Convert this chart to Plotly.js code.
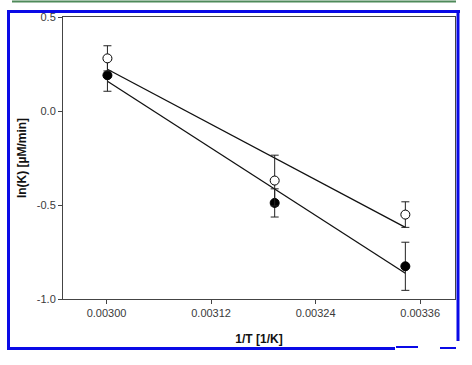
<!DOCTYPE html>
<html>
<head>
<meta charset="utf-8">
<script src="https://cdn.plot.ly/plotly-3.0.1.min.js"></script>
<style>html,body{margin:0;padding:0;background:#fff;}#chart{width:472px;height:365px;}</style>
</head>
<body>
<div id="chart"></div>
<script>
// Data
const invT = [0.003001, 0.003193, 0.003343];
const lnKOpen = [0.28, -0.37, -0.551];
const errOpen = [0.067, 0.135, 0.068];
const lnKFilled = [0.19, -0.489, -0.826];
const errFilled = [0.085, 0.075, 0.128];
// Regression line endpoints
const fitX = [0.003001, 0.003343];
const fitOpen = [0.222, -0.619];
const fitFilled = [0.158, -0.863];
const xTicks = [0.00300, 0.00312, 0.00324, 0.00336];
const xTickText = ['0.00300', '0.00312', '0.00324', '0.00336'];
const yTicks = [-1.0, -0.5, 0.0, 0.5];
const yTickText = ['-1.0', '-0.5', '0.0', '0.5'];

const L = 63, R = 455, T = 17, B = 299;
const W = 472, H = 365;
const px = x => (x - L) / (R - L);
const py = y => (B - y) / (B - T);
function seg(x0, y0, x1, y1, color, width) {
  return {type: 'line', xref: 'paper', yref: 'paper', x0: px(x0), y0: py(y0), x1: px(x1), y1: py(y1),
    line: {color: color, width: width}, layer: 'above'};
}
const blue = '#0a0ae6';
const shapes = [
  seg(12, 1.5, 456, 1.5, '#4f8a5a', 2),
  seg(7, 11.5, 460, 11.5, blue, 3),
  seg(8.5, 10, 8.5, 350, blue, 3),
  seg(458, 10, 458, 341, blue, 3),
  seg(7, 348.5, 395, 348.5, blue, 3),
  seg(396, 347, 418, 347, blue, 2),
  seg(440, 348, 456, 348, blue, 2)
];

const traces = [
  {x: fitX, y: fitOpen, mode: 'lines', line: {color: '#111', width: 1.3}, hoverinfo: 'skip'},
  {x: fitX, y: fitFilled, mode: 'lines', line: {color: '#111', width: 1.3}, hoverinfo: 'skip'},
  {x: invT, y: lnKFilled, mode: 'markers',
   error_y: {type: 'data', array: errFilled, visible: true, color: '#222', thickness: 1, width: 4},
   marker: {symbol: 'circle', size: 9, color: '#000', line: {color: '#000', width: 1}}},
  {x: invT, y: lnKOpen, mode: 'markers',
   error_y: {type: 'data', array: errOpen, visible: true, color: '#222', thickness: 1, width: 4},
   marker: {symbol: 'circle', size: 9, color: '#fff', line: {color: '#000', width: 1}}}
];

const layout = {
  width: W, height: H,
  margin: {l: L, r: W - R, t: T, b: H - B, pad: 0},
  paper_bgcolor: '#fff', plot_bgcolor: '#fff',
  showlegend: false,
  font: {family: 'Liberation Sans, Arial, sans-serif', size: 11, color: '#333'},
  xaxis: {
    range: [0.00295, 0.00340], tickvals: xTicks, ticktext: xTickText,
    showgrid: false, zeroline: false, showline: true, mirror: true,
    linecolor: '#444', linewidth: 1, ticks: 'outside', ticklen: 4, tickcolor: '#444',
    tickfont: {size: 11, color: '#3a3a3a'},
    title: {text: '<b>1/T [1/K]</b>', font: {size: 12, color: '#111'}, standoff: 16}
  },
  yaxis: {
    range: [-1.0, 0.5], tickvals: yTicks, ticktext: yTickText,
    showgrid: false, zeroline: false, showline: true, mirror: true,
    linecolor: '#444', linewidth: 1, ticks: 'outside', ticklen: 4, tickcolor: '#444',
    tickfont: {size: 11, color: '#3a3a3a'},
    title: {text: '<b>ln(K) [µM/min]</b>', font: {size: 12, color: '#111'}, standoff: 7}
  },
  shapes: shapes
};

Plotly.newPlot('chart', traces, layout, {displayModeBar: false, staticPlot: true});
</script>
</body>
</html>
